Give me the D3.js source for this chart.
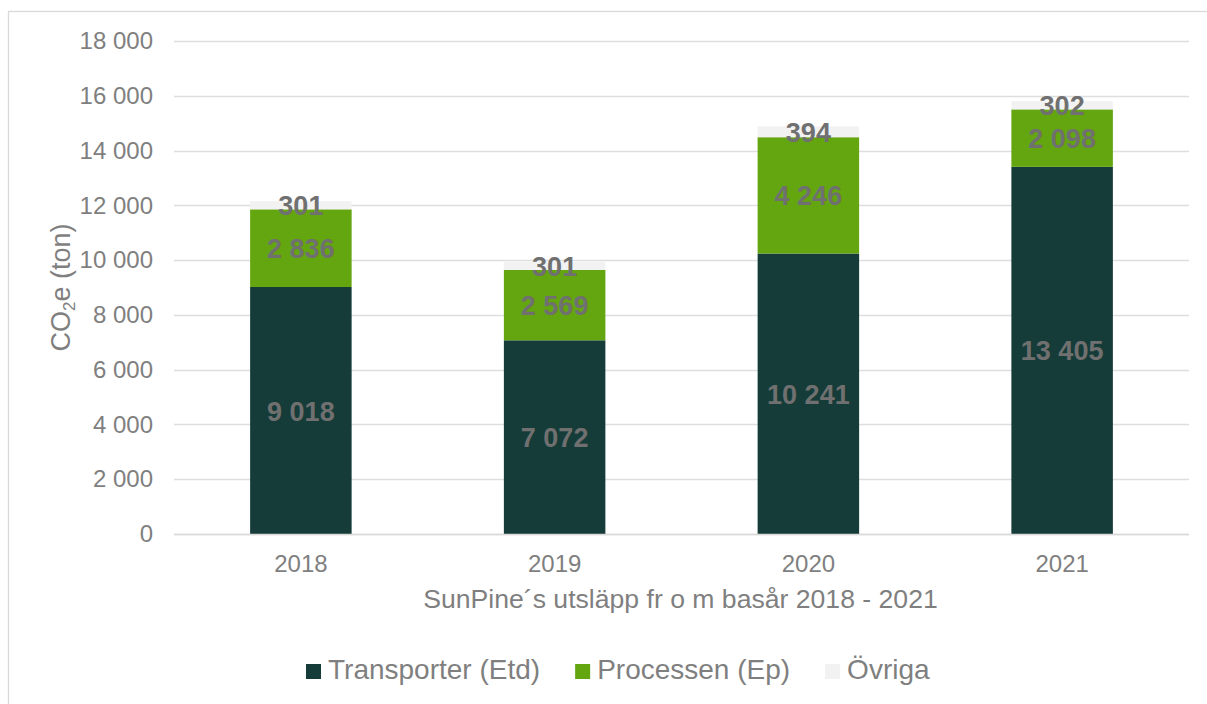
<!DOCTYPE html>
<html><head><meta charset="utf-8">
<script src="https://cdn.jsdelivr.net/npm/d3@7"></script>
<style>
html,body{margin:0;padding:0;background:#fff;}
svg{display:block;font-family:Arial,"Liberation Sans",sans-serif;}
</style></head>
<body>
<svg id="c" width="1207" height="704"></svg>
<script>
const categories = ["2018", "2019", "2020", "2021"];
const seriesNames = ["Transporter (Etd)", "Processen (Ep)", "Övriga"];
const transporter = [9018, 7072, 10241, 13405];
const processen = [2836, 2569, 4246, 2098];
const ovriga = [301, 301, 394, 302];
const yTicks = [0, 2000, 4000, 6000, 8000, 10000, 12000, 14000, 16000, 18000];
const xTitle = "SunPine´s utsläpp fr o m basår 2018 - 2021";

const colors = ["#163c39", "#63a60f", "#f2f2f2"];
const svg = d3.select("#c");

// frame
svg.append("rect").attr("x", 8.5).attr("y", 11.5).attr("width", 1300).attr("height", 800)
  .attr("fill", "none").attr("stroke", "#d9d9d9").attr("stroke-width", 1.3);

const plot = {left: 174, right: 1189, top: 41, bottom: 534};
const x = d3.scaleBand().domain(categories).range([plot.left, plot.right]).paddingInner(0.6).paddingOuter(0.3);
const y = d3.scaleLinear().domain([0, 18000]).range([plot.bottom, plot.top]);

// gridlines
svg.append("g").selectAll("line").data(yTicks).join("line")
  .attr("x1", plot.left).attr("x2", plot.right)
  .attr("y1", d => Math.round(y(d)) + 0.5).attr("y2", d => Math.round(y(d)) + 0.5)
  .attr("stroke", "#dedede").attr("stroke-width", 1.4);

// y axis labels
const fmt = v => d3.format(",")(v).replace(/,/g, " ");
const yAxis = d3.axisLeft(y).tickValues(yTicks).tickFormat(fmt).tickSize(0).tickPadding(0);
const gy = svg.append("g").attr("transform", `translate(${plot.left - 21},0)`).call(yAxis);
gy.select(".domain").remove();
gy.selectAll("text").attr("font-size", 24).attr("fill", "#7f7f7f").attr("font-family", "Arial, 'Liberation Sans', sans-serif");

// x axis labels
const xAxis = d3.axisBottom(x).tickSize(0).tickPadding(0);
const gx = svg.append("g").attr("transform", `translate(0,${plot.bottom})`).call(xAxis);
gx.select(".domain").remove();
gx.selectAll("text").attr("font-size", 24).attr("fill", "#7f7f7f").attr("dy", null).attr("y", 38)
  .attr("font-family", "Arial, 'Liberation Sans', sans-serif");

// stacked data
const rows = categories.map((c, i) => ({cat: c, s0: transporter[i], s1: processen[i], s2: ovriga[i]}));
const stack = d3.stack().keys(["s0", "s1", "s2"])(rows);

const layers = svg.append("g").selectAll("g").data(stack).join("g").attr("fill", (d, i) => colors[i]);
layers.selectAll("rect").data(d => d).join("rect")
  .attr("x", d => x(d.data.cat)).attr("width", x.bandwidth())
  .attr("y", d => y(d[1])).attr("height", d => y(d[0]) - y(d[1]));

// data labels
const lbl = svg.append("g");
stack.forEach((layer) => {
  layer.forEach(d => {
    lbl.append("text")
      .attr("x", x(d.data.cat) + x.bandwidth() / 2)
      .attr("y", (y(d[0]) + y(d[1])) / 2 + 1)
      .attr("text-anchor", "middle").attr("dominant-baseline", "central")
      .attr("font-size", 27).attr("font-weight", "bold").attr("fill", "#707070")
      .text(fmt(d[1] - d[0]));
  });
});

// baseline axis
svg.append("line").attr("x1", plot.left).attr("x2", plot.right)
  .attr("y1", Math.round(y(0)) + 0.5).attr("y2", Math.round(y(0)) + 0.5)
  .attr("stroke", "#d9d9d9").attr("stroke-width", 1.4);

// y title
const yt = svg.append("text").attr("transform", `translate(70,${(plot.top + plot.bottom) / 2}) rotate(-90)`)
  .attr("text-anchor", "middle").attr("font-size", 27).attr("fill", "#7f7f7f");
yt.append("tspan").text("CO");
yt.append("tspan").text("2").attr("font-size", 17).attr("dy", 5);
yt.append("tspan").text("e (ton)").attr("dy", -5);

// x title
svg.append("text").attr("x", (424 + 937) / 2).attr("y", 608)
  .attr("text-anchor", "middle").attr("font-size", 26.6).attr("fill", "#7f7f7f").text(xTitle);

// legend
const leg = svg.append("g");
let lx = 306;
seriesNames.forEach((name, i) => {
  leg.append("rect").attr("x", lx).attr("y", 664).attr("width", 15).attr("height", 15).attr("fill", colors[i]);
  const t = leg.append("text").attr("x", lx + 22).attr("y", 679).attr("font-size", 28).attr("fill", "#7f7f7f").text(name);
  lx += 22 + t.node().getComputedTextLength() + 35;
});
</script>
</body></html>
